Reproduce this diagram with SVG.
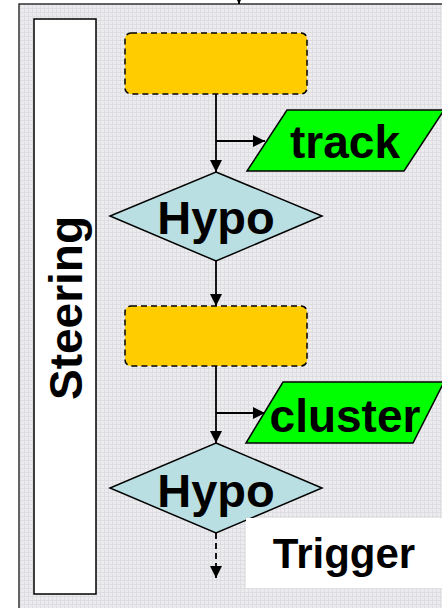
<svg xmlns="http://www.w3.org/2000/svg" width="442" height="608" viewBox="0 0 442 608">
<defs>
<pattern id="grid" width="4" height="4" patternUnits="userSpaceOnUse">
<rect width="4" height="4" fill="#ececee"/>
<path d="M0 0.5H4M0.5 0V4" stroke="#dedee2" stroke-width="1"/>
</pattern>
<marker id="ah" viewBox="0 0 12 12" refX="12" refY="6" markerWidth="12" markerHeight="12" markerUnits="userSpaceOnUse" orient="auto">
<path d="M0 0L12 6L0 12Z" fill="#000"/>
</marker>
<marker id="ahs" viewBox="0 0 8 8" refX="8" refY="4" markerWidth="7" markerHeight="7" markerUnits="userSpaceOnUse" orient="auto">
<path d="M0 0L8 4L0 8Z" fill="#000"/>
</marker>
</defs>
<style>
.lbl{font-family:"Liberation Sans",Arial,sans-serif;font-weight:bold;fill:#000}
.proc{fill:#ffcc00;stroke:#000;stroke-width:1.5;stroke-dasharray:6 4}
.data{fill:#00ff00;stroke:#000;stroke-width:1.5}
.dec{fill:#b9dfe2;stroke:#000;stroke-width:1.5}
.edge{stroke:#000;stroke-width:1.8;fill:none}
</style>
<g id="frame">
<rect x="19" y="4" width="430" height="610" fill="url(#grid)" stroke="#333" stroke-width="1.5"/>
</g>
<g id="steering">
<rect x="34" y="19" width="62" height="575" fill="#fff" stroke="#000" stroke-width="1.5"/>
<text class="lbl" font-size="46" text-anchor="middle" transform="translate(82,308) rotate(-90)">Steering</text>
</g>
<g id="proc1"><rect class="proc" x="125" y="33" width="182" height="61" rx="6"/></g>
<g id="track">
<polygon class="data" points="287,110 444,110 404,171 247,171"/>
<text class="lbl" font-size="46" x="345" y="158" text-anchor="middle">track</text>
</g>
<g id="hypo1">
<polygon class="dec" points="216,172 322,216 216,261 110,216"/>
<text class="lbl" font-size="47" x="216" y="234" text-anchor="middle">Hypo</text>
</g>
<g id="proc2"><rect class="proc" x="125" y="306" width="182" height="60" rx="6"/></g>
<g id="cluster">
<polygon class="data" points="283,382 444,382 413,443 246,443"/>
<text class="lbl" font-size="46" x="345" y="432" text-anchor="middle">cluster</text>
</g>
<g id="hypo2">
<polygon class="dec" points="216,443 322,488 216,533 110,488"/>
<text class="lbl" font-size="47" x="216" y="507" text-anchor="middle">Hypo</text>
</g>
<g id="trigger">
<rect x="246" y="518" width="200" height="70" fill="#fff"/>
<text class="lbl" font-size="42" x="344" y="568" text-anchor="middle">Trigger</text>
</g>
<g id="connectors">
<line class="edge" x1="239" y1="-2" x2="239" y2="4" marker-end="url(#ahs)"/>
<line class="edge" x1="216" y1="94" x2="216" y2="172" marker-end="url(#ah)"/>
<line class="edge" x1="216" y1="141" x2="265" y2="141" marker-end="url(#ah)"/>
<line class="edge" x1="216" y1="261" x2="216" y2="306" marker-end="url(#ah)"/>
<line class="edge" x1="216" y1="366" x2="216" y2="443" marker-end="url(#ah)"/>
<line class="edge" x1="216" y1="413" x2="265" y2="413" marker-end="url(#ah)"/>
<line class="edge" x1="216" y1="533" x2="216" y2="578" stroke-dasharray="6 4" marker-end="url(#ah)"/>
</g>
</svg>
